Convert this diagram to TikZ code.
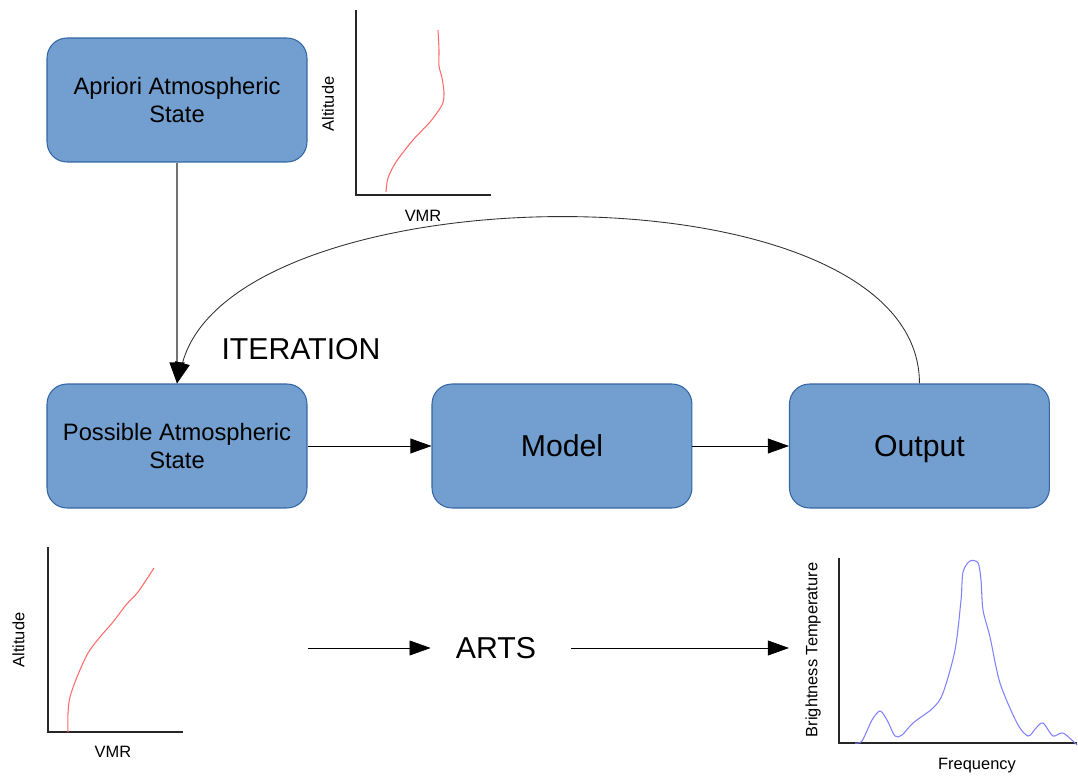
\documentclass[tikz,border=0pt]{standalone}
\usepackage{fontspec}
\setmainfont{Liberation Sans}
\usetikzlibrary{positioning,arrows.meta}
\definecolor{boxblue}{HTML}{729FCF}
\definecolor{boxedge}{HTML}{3465A4}
\definecolor{vmrred}{HTML}{FF6A6A}
\definecolor{tbblue}{HTML}{8080FF}

\begin{document}
\begin{tikzpicture}[->, >={Triangle[length=12pt,width=8.5pt,color=black]}, x=0.02cm, y=-0.02cm, node distance=2.48cm,
                        box/.style={rectangle,rounded corners=0.4cm,draw=boxedge,fill=boxblue,line width=0.6pt,
                        minimum width=5.2cm,minimum height=2.48cm,inner sep=0pt,align=center,
                        font=\fontsize{13.5}{15.7}\selectfont},
                        big/.style={font=\fontsize{17.2}{20}\selectfont},
                        axlbl/.style={font=\fontsize{9.35}{11}\selectfont},
                        axis/.style={-,line width=0.9pt,black!85},
                        prof/.style={-,line width=0.6pt}
                        ]
    \useasboundingbox (0,0) rectangle (1078,776);
    \node (possible) [box] at (177,446) {Possible Atmospheric\\State};
    \node (model) [box,big,right=of possible] {Model};
    \node (output) [box,big,text depth=0pt,right=1.93cm of model] {Output};
    \node (apriori) [box,above=4.42cm of possible] {Apriori Atmospheric\\State};
    \node (iter) [big] at (301,349) {ITERATION};
    \node (arts) [big,inner xsep=0.5cm] at (496,648) {ARTS};
    \draw[->,black!55,line width=0.75pt] (apriori) -- (possible);
    \draw[->] (possible) -- (model);
    \draw[->] (model) -- (output);
    \draw[->,black!80,line width=0.5pt] (output.north) to [out=90,in=75,looseness=0.77] (possible.north);
    \draw[->] (possible.east |- arts.west) -- (arts.west);
    \draw[->,shorten <=0.2cm] (arts.east) -- (output.west |- arts.east);
    % apriori profile
    \draw[axis] (356,10) -- (356,195) -- (491,195);
    \draw[prof,vmrred] plot[smooth] coordinates {(386,192) (388,178) (396,162) (413,140) (430,122) (442,105) (444,93) (442,78) (439,66) (439,50) (438,30)};
    \node (altA) [axlbl,rotate=90] at (328,104) {Altitude};
    \node (vmrA) [axlbl] at (423,216) {VMR};
    % possible profile
    \draw[axis] (48,547) -- (48,732) -- (183,732);
    \draw[prof,vmrred] plot[smooth] coordinates {(68,732) (68,713) (70,697) (77,677) (88,653) (100,637) (113,622) (126,605) (138,592) (154,568)};
    \node (altB) [axlbl,rotate=90] at (18.5,640) {Altitude};
    \node (vmrB) [axlbl] at (113,752) {VMR};
    % output spectrum
    \draw[axis] (839,558) -- (839,743) -- (1077,743);
    \draw[prof,tbblue] plot[smooth] coordinates {(855,743) (862,741) (872,720) (880,711) (887,720) (895,736) (902,735) (913,723) (933,708) (943,693) (955,650) (961,600) (963,572) (970,561) (978,563) (981,580) (983,610) (990,637) (1000,683) (1017,723) (1028,736) (1036,728) (1043,723) (1053,736) (1063,733) (1077,745)};
    \node (bt) [axlbl,rotate=90] at (813,650) {Brightness Temperature};
    \node (freq) [axlbl] at (977,766) {Frequency};
\end{tikzpicture}
\end{document}
